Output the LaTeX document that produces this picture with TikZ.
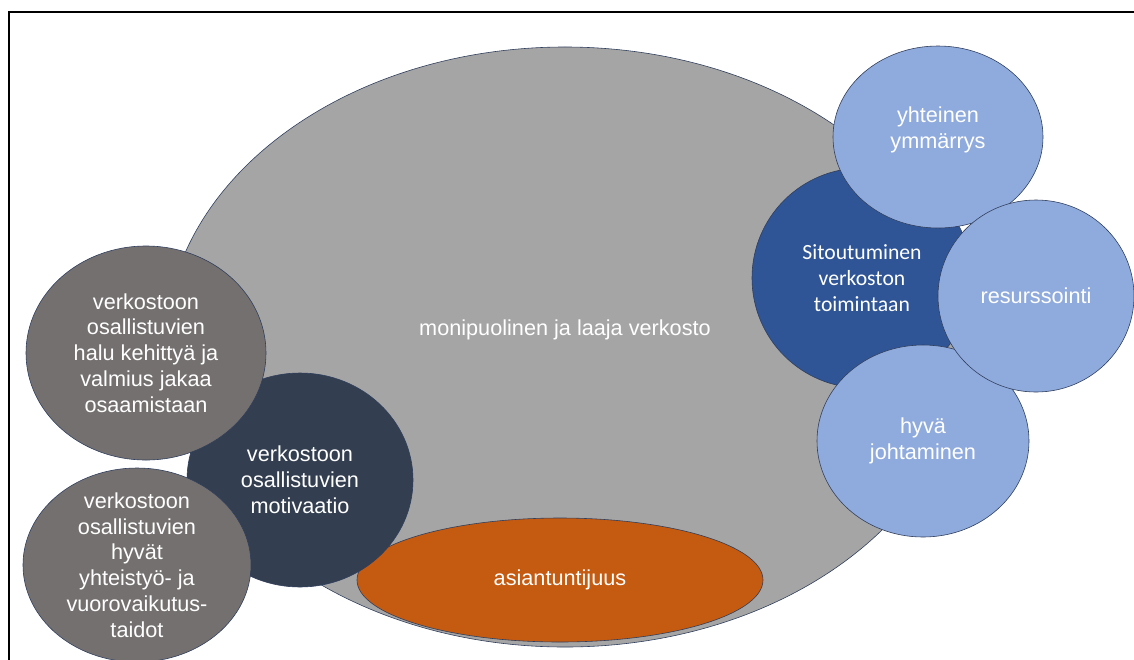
\documentclass[tikz,border=0pt]{standalone}
\usepackage{fontspec}
\setmainfont{Liberation Sans}
\newfontfamily\sitfont{Carlito}
\usetikzlibrary{shapes.geometric}

\definecolor{verkgray}{HTML}{A5A5A5}
\definecolor{taupe}{HTML}{757070}
\definecolor{navy}{HTML}{333F50}
\definecolor{rust}{HTML}{C55A11}
\definecolor{royal}{HTML}{2F5597}
\definecolor{sky}{HTML}{8FAADC}
\definecolor{rim}{HTML}{2F3E5C}

\tikzset{
	blob/.style={ellipse, draw=rim, line width=0.5pt, inner sep=0pt},
	txt/.style={text=white, align=center, font=\fontsize{18.5}{22}\selectfont},
	sittxt/.style={text=white, align=center, font=\sitfont\fontsize{18.5}{22}\selectfont}
}

\begin{document}
\begin{tikzpicture}[x=0.03cm, y=-0.03cm]
			%%%%% START %%%%%
			\useasboundingbox (0,0) rectangle (1134,659);
			\fill[white] (0,0) rectangle (1134,659);
			\draw[line width=1.7pt] (9,680) -- (9,12) -- (1150,12);
			
			% the network
			\node[blob, fill=verkgray, minimum width=24cm, minimum height=18cm] (verkosto) at (565,347) {};
			\node[txt] (verkostotxt) at (565,330) {monipuolinen ja laaja verkosto};
			
			\node[blob, fill=rust, minimum width=12.18cm, minimum height=3.72cm] (asiantuntijuus) at (560,580) {};
			\node[txt] (asiantuntijuustxt) at (asiantuntijuus) {asiantuntijuus};
			
			% left side
			\node[blob, fill=navy, minimum width=6.78cm, minimum height=6.42cm] (motivaatio) at (300,480) {};
			\node[txt] (motivaatiotxt) at (motivaatio) {verkostoon\\osallistuvien\\motivaatio};
			
			\node[blob, fill=taupe, minimum width=7.2cm, minimum height=6.42cm] (halu) at (146,353) {};
			\node[txt] (halutxt) at (halu) {verkostoon\\osallistuvien\\halu kehittyä ja\\valmius jakaa\\osaamistaan};
			
			\node[blob, fill=taupe, minimum width=6.84cm, minimum height=5.82cm] (taidot) at (137,565) {};
			\node[txt] (taidottxt) at (taidot) {verkostoon\\osallistuvien\\hyvät\\yhteistyö- ja\\vuorovaikutus-\\taidot};
			
			% right side
			\node[blob, fill=royal, minimum width=6.6cm, minimum height=6.6cm] (sitoutuminen) at (862,278) {};
			\node[sittxt] (sitoutuminentxt) at (sitoutuminen) {Sitoutuminen\\verkoston\\toimintaan};
			
			\node[blob, fill=sky, minimum width=6.3cm, minimum height=5.46cm] (ymmarrys) at (938,137) {};
			\node[txt] (ymmarrystxt) at (938,130) {yhteinen\\ymmärrys};
			
			\node[blob, fill=sky, minimum width=6.36cm, minimum height=5.76cm] (johtaminen) at (923,441) {};
			\node[txt] (johtaminentxt) at (johtaminen) {hyvä\\johtaminen};
			
			\node[blob, fill=sky, minimum width=5.88cm, minimum height=5.76cm] (resurssointi) at (1036,296) {};
			\node[txt] (resurssointitxt) at (resurssointi) {resurssointi};
			%%%%% END %%%%%
\end{tikzpicture}
\end{document}
